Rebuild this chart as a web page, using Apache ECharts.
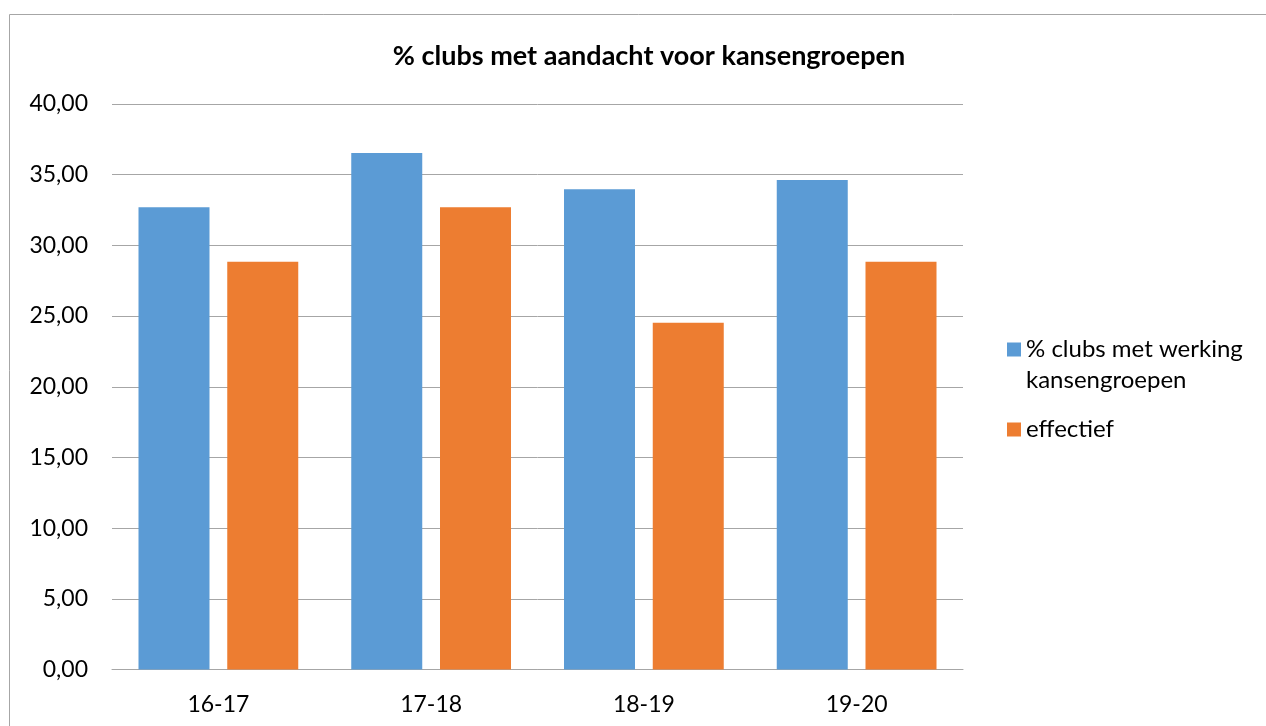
<!DOCTYPE html>
<html>
<head>
<meta charset="utf-8">
<script src="https://cdn.jsdelivr.net/npm/echarts@6/dist/echarts.min.js"></script>
<style>
  html, body { margin: 0; padding: 0; background: #ffffff; }
  #chart { width: 1266px; height: 726px; }
</style>
</head>
<body>
<div id="chart"></div>
<script>
// Seasons on the x axis
const seasons = ['16-17', '17-18', '18-19', '19-20'];
// Share of clubs with a working for opportunity groups (%)
const werking = [32.69, 36.54, 33.97, 34.62];
// Effective share (%)
const effectief = [28.85, 32.69, 24.52, 28.85];

const seriesNames = ['% clubs met werking\nkansengroepen', 'effectief'];
const chartTitle = '% clubs met aandacht voor kansengroepen';

const FONT = 'Lato, "Open Sans", sans-serif';
const GRID_COLOR = '#a6a6a6';

const chart = echarts.init(document.getElementById('chart'), null, { renderer: 'canvas' });

chart.setOption({
  backgroundColor: '#ffffff',
  animation: false,
  textStyle: { fontFamily: FONT },
  title: {
    text: chartTitle,
    left: 644,
    textAlign: 'center',
    top: 38,
    textStyle: { fontFamily: FONT, fontWeight: 'bold', fontSize: 27, color: '#000000' }
  },
  legend: {
    orient: 'vertical',
    left: 1007,
    top: 303,
    padding: 0,
    itemWidth: 14,
    itemHeight: 14,
    itemGap: 18,
    icon: 'rect',
    // a blank first line keeps the swatch level with the first text line
    formatter: name => (name.indexOf('\n') >= 0 ? ' \n' + name : name),
    textStyle: { fontFamily: FONT, fontSize: 24, color: '#000000', lineHeight: 31 },
    data: seriesNames
  },
  grid: {
    left: 112,
    right: 303,
    top: 104,
    bottom: 56.5,
    containLabel: false
  },
  xAxis: {
    type: 'category',
    data: seasons,
    axisLine: { show: true, lineStyle: { color: GRID_COLOR, width: 1 } },
    axisTick: { show: false },
    axisLabel: { fontFamily: FONT, fontSize: 23, color: '#000000', margin: 24 }
  },
  yAxis: {
    type: 'value',
    min: 0,
    max: 40,
    interval: 5,
    axisLine: { show: false },
    axisTick: { show: false },
    splitLine: { lineStyle: { color: GRID_COLOR, width: 1 } },
    axisLabel: {
      fontFamily: FONT,
      fontSize: 23,
      color: '#000000',
      margin: 24,
      formatter: v => v.toFixed(2).replace('.', ',')
    }
  },
  series: [
    {
      name: seriesNames[0],
      type: 'bar',
      data: werking,
      barWidth: 71,
      barGap: '25%',
      itemStyle: { color: '#5b9bd5' }
    },
    {
      name: seriesNames[1],
      type: 'bar',
      data: effectief,
      barWidth: 71,
      barGap: '25%',
      itemStyle: { color: '#ed7d31' }
    }
  ],
  graphic: [
    {
      type: 'rect',
      silent: true,
      shape: { x: 9.5, y: 14.5, width: 1400, height: 900 },
      style: { fill: 'none', stroke: '#a6a6a6', lineWidth: 1 }
    }
  ]
});
</script>
</body>
</html>
